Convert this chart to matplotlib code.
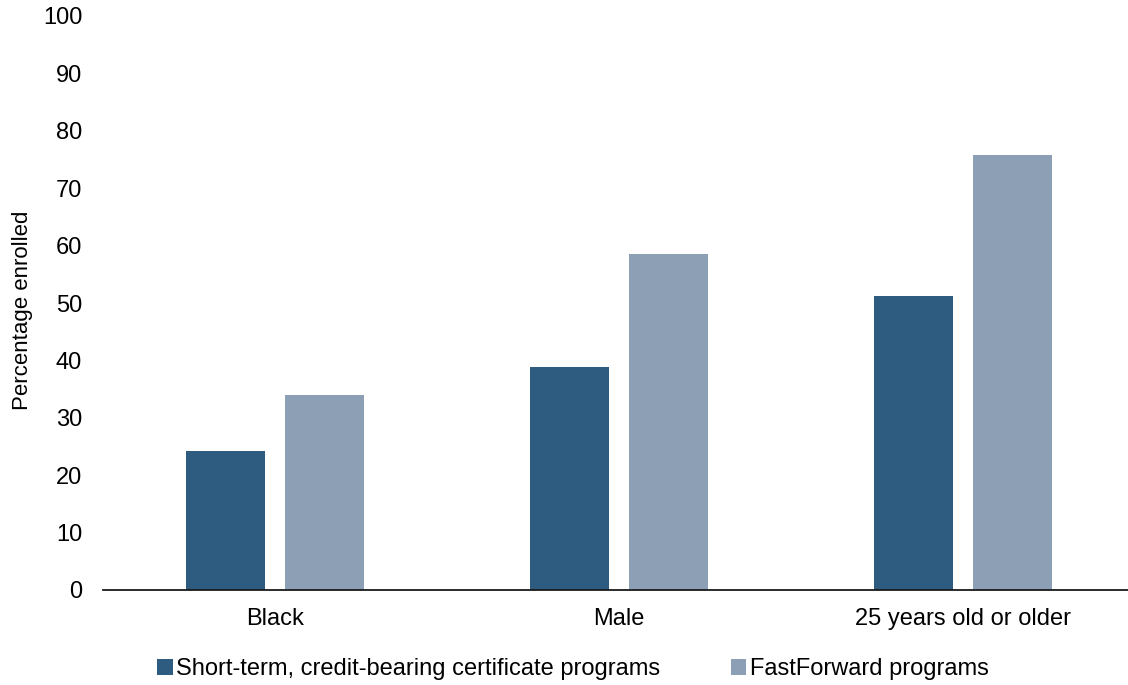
import matplotlib
matplotlib.use("Agg")
import matplotlib.pyplot as plt
import numpy as np

plt.rcParams['font.family'] = ['Liberation Sans', 'DejaVu Sans']

categories = ["Black", "Male", "25 years old or older"]
short_term = [24.2, 38.8, 51.3]
fastforward = [34.0, 58.6, 75.7]
series_names = ["Short-term, credit-bearing certificate programs", "FastForward programs"]
colors = ["#2E5C80", "#8C9FB5"]

fig = plt.figure(figsize=(11.28, 6.85), dpi=100)
ax = fig.add_axes([103/1128, 95/685, (1135-103)/1128, (590-16)/685])

x = np.arange(len(categories))
w = 0.227
gap = 0.061
ax.bar(x - (w + gap)/2, short_term, width=w, color=colors[0], label=series_names[0])
ax.bar(x + (w + gap)/2, fastforward, width=w, color=colors[1], label=series_names[1])

ax.set_xlim(-0.5, len(categories) - 0.5)
ax.set_ylim(0, 100)
ax.set_yticks(np.arange(0, 101, 10))
ax.set_xticks(x)
ax.set_xticklabels(categories)
ax.tick_params(axis='both', length=0, labelsize=17, colors='black')
ax.tick_params(axis='y', pad=15)
ax.tick_params(axis='x', pad=13)
for s in ['top', 'right', 'left']:
    ax.spines[s].set_visible(False)
ax.spines['bottom'].set_color('#1a1a1a')
ax.spines['bottom'].set_linewidth(1.3)
ax.set_ylabel("Percentage enrolled", fontsize=16)
ax.yaxis.set_label_coords(-0.0678, 0.488)

leg = fig.legend(loc='center', bbox_to_anchor=(0.508, (685-669)/685), ncol=2,
                 frameon=False, fontsize=17, handlelength=0.65, handleheight=0.65,
                 handletextpad=0.15, columnspacing=3.0)

fig.savefig("out.png", dpi=100)
